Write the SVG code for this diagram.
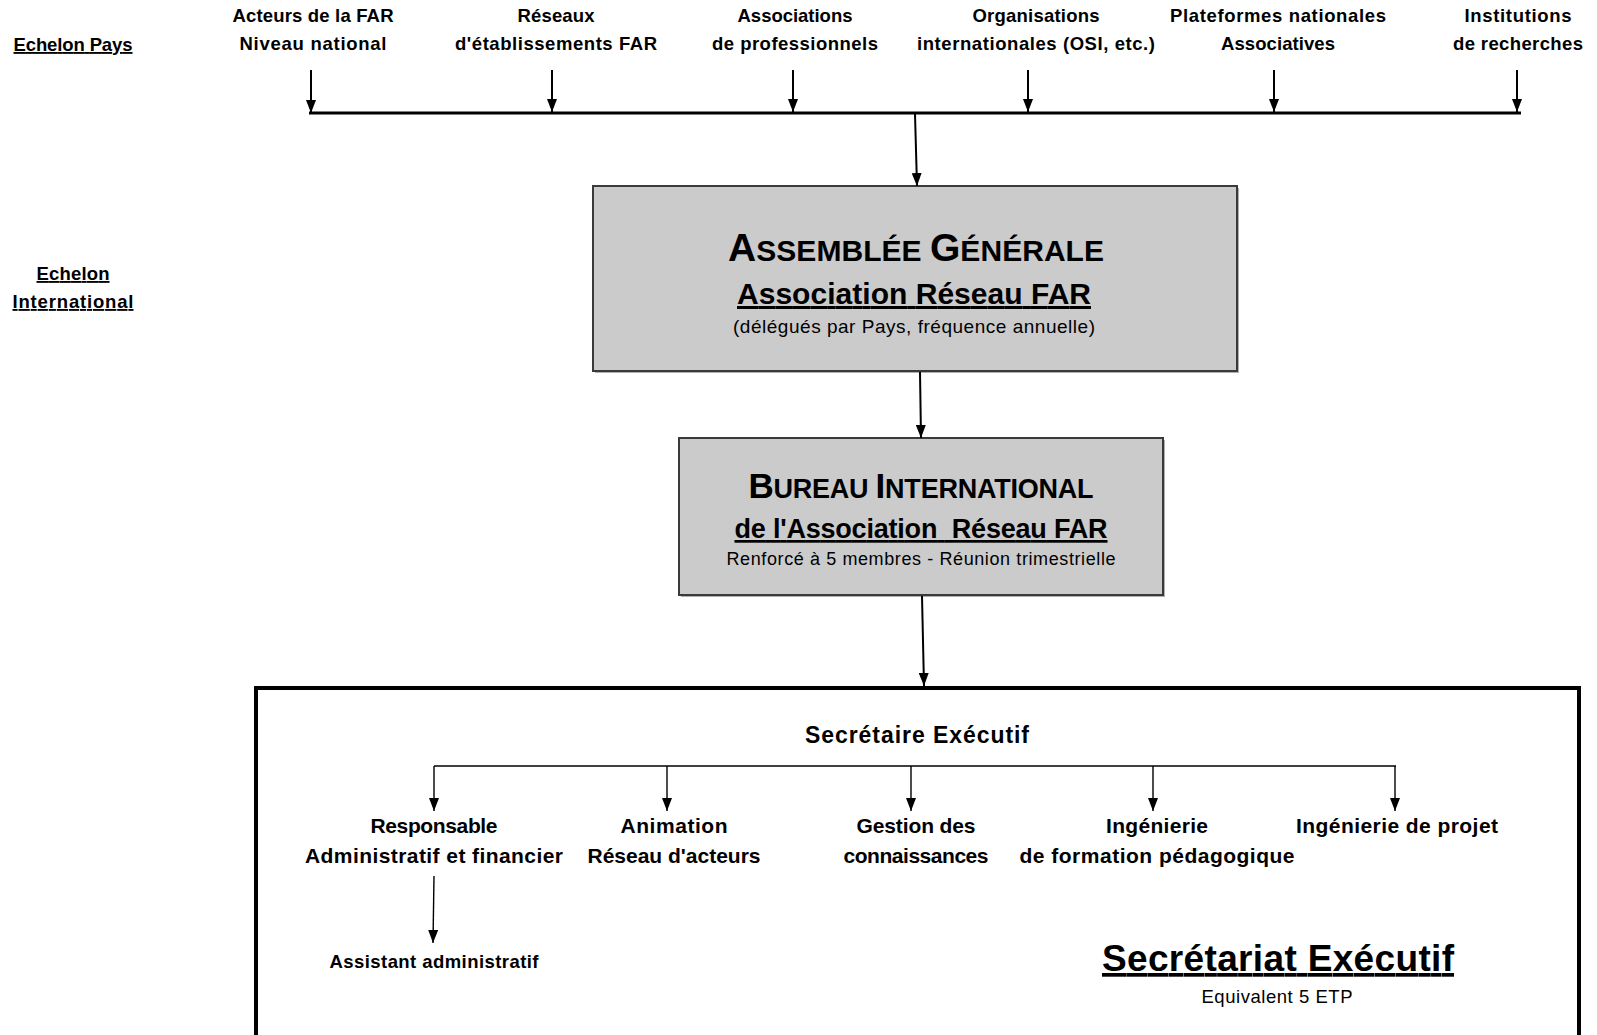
<svg xmlns="http://www.w3.org/2000/svg" width="1597" height="1035" viewBox="0 0 1597 1035">
<style>
text{font-family:"Liberation Sans",Arial,sans-serif;fill:#000;text-anchor:middle}
.b{font-weight:bold}
.h{font-size:18.5px;font-weight:bold}
.l{font-size:21px;font-weight:bold}
.u{text-decoration:underline}
.pre{white-space:pre}
.box{fill:#cbcbcb;stroke:#3a3a3a;stroke-width:2}
.shadow{fill:#b0b0b0}
.c{stroke:#000;stroke-width:2;fill:none}
.t{stroke:#000;stroke-width:1.4;fill:none}
</style>
<defs>
<marker id="ah" markerWidth="13" markerHeight="10" refX="13" refY="5" orient="auto" markerUnits="userSpaceOnUse" viewBox="0 0 13 10">
<path d="M0,0 L13,5 L0,10 Z" fill="#000"/>
</marker>
</defs>
<rect width="1597" height="1035" fill="#fff"/>

<g id="labels-echelon">
<text class="h u" x="73" y="51" textLength="119">Echelon Pays</text>
<text class="h u" x="73" y="280" textLength="73">Echelon</text>
<text class="h u" x="73" y="308" textLength="121">International</text>
</g>

<g id="n-acteurs"><text class="h" x="313" y="22" textLength="161">Acteurs de la FAR</text><text class="h" x="313" y="50" textLength="147">Niveau national</text></g>
<g id="n-reseaux"><text class="h" x="556" y="22" textLength="77">Réseaux</text><text class="h" x="556" y="50" textLength="202">d'établissements FAR</text></g>
<g id="n-associations"><text class="h" x="795" y="22" textLength="115">Associations</text><text class="h" x="795" y="50" textLength="166">de professionnels</text></g>
<g id="n-organisations"><text class="h" x="1036" y="22" textLength="127">Organisations</text><text class="h" x="1036" y="50" textLength="238">internationales (OSI, etc.)</text></g>
<g id="n-plateformes"><text class="h" x="1278" y="22" textLength="216">Plateformes nationales</text><text class="h" x="1278" y="50" textLength="114">Associatives</text></g>
<g id="n-institutions"><text class="h" x="1518" y="22" textLength="107">Institutions</text><text class="h" x="1518" y="50" textLength="130">de recherches</text></g>

<g id="n-assemblee">
<rect class="shadow" x="595" y="188" width="644" height="185"/>
<rect class="box" x="593" y="186" width="644" height="185"/>
<text class="b" x="916" y="261" font-size="30" textLength="376"><tspan font-size="39">A</tspan>SSEMBLÉE <tspan font-size="39">G</tspan>ÉNÉRALE</text>
<text class="b u" x="914" y="304" font-size="30" textLength="354">Association Réseau FAR</text>
<text x="914" y="333" font-size="19" textLength="362">(délégués par Pays, fréquence annuelle)</text>
</g>

<g id="n-bureau">
<rect class="shadow" x="681" y="440" width="484" height="157"/>
<rect class="box" x="679" y="438" width="484" height="157"/>
<text class="b" x="921" y="498" font-size="27" textLength="345"><tspan font-size="35">B</tspan>UREAU <tspan font-size="35">I</tspan>NTERNATIONAL</text>
<text class="b u pre" x="921" y="538" font-size="27" textLength="373">de l'Association  Réseau FAR</text>
<text x="921" y="565" font-size="18" textLength="389">Renforcé à 5 membres - Réunion trimestrielle</text>
</g>

<g id="n-secretariat">
<rect x="256" y="688" width="1323" height="360" fill="none" stroke="#000" stroke-width="4"/>
<text class="b u" x="1278" y="971" font-size="37" textLength="352">Secrétariat Exécutif</text>
<text x="1277" y="1003" font-size="18.5" textLength="151">Equivalent 5 ETP</text>
</g>

<g id="n-se"><text class="b" x="917" y="743" font-size="23" textLength="224">Secrétaire Exécutif</text></g>
<g id="n-raf"><text class="l" x="434" y="833" textLength="127">Responsable</text><text class="l" x="434" y="863" textLength="258">Administratif et financier</text></g>
<g id="n-animation"><text class="l" x="674" y="833" textLength="107">Animation</text><text class="l" x="674" y="863" textLength="173">Réseau d'acteurs</text></g>
<g id="n-gestion"><text class="l" x="916" y="833" textLength="119">Gestion des</text><text class="l" x="916" y="863" textLength="145">connaissances</text></g>
<g id="n-ingform"><text class="l" x="1157" y="833" textLength="102">Ingénierie</text><text class="l" x="1157" y="863" textLength="275">de formation pédagogique</text></g>
<g id="n-ingproj"><text class="l" x="1397" y="833" textLength="202">Ingénierie de projet</text></g>
<g id="n-assistant"><text class="b" x="434" y="968" font-size="18.5" textLength="209">Assistant administratif</text></g>

<g id="connectors">
<line class="c" x1="311" y1="70" x2="311" y2="113" marker-end="url(#ah)"/>
<line class="c" x1="552" y1="70" x2="552" y2="112" marker-end="url(#ah)"/>
<line class="c" x1="793" y1="70" x2="793" y2="112" marker-end="url(#ah)"/>
<line class="c" x1="1028" y1="70" x2="1028" y2="112" marker-end="url(#ah)"/>
<line class="c" x1="1274" y1="70" x2="1274" y2="112" marker-end="url(#ah)"/>
<line class="c" x1="1517" y1="70" x2="1517" y2="112" marker-end="url(#ah)"/>
<line x1="309" y1="113" x2="1521" y2="113" stroke="#000" stroke-width="3"/>
<line class="c" x1="915" y1="114" x2="917" y2="186" marker-end="url(#ah)"/>
<line class="c" x1="920" y1="372" x2="921" y2="438" marker-end="url(#ah)"/>
<line class="c" x1="922" y1="596" x2="924" y2="686" marker-end="url(#ah)"/>
<line x1="434" y1="766" x2="1396" y2="766" stroke="#000" stroke-width="1.6"/>
<line class="t" x1="434" y1="766" x2="434" y2="811" marker-end="url(#ah)"/>
<line class="t" x1="667" y1="766" x2="667" y2="811" marker-end="url(#ah)"/>
<line class="t" x1="911" y1="766" x2="911" y2="811" marker-end="url(#ah)"/>
<line class="t" x1="1153" y1="766" x2="1153" y2="811" marker-end="url(#ah)"/>
<line class="t" x1="1395" y1="766" x2="1395" y2="811" marker-end="url(#ah)"/>
<line class="t" x1="434" y1="876" x2="433" y2="943" marker-end="url(#ah)"/>
</g>
</svg>
